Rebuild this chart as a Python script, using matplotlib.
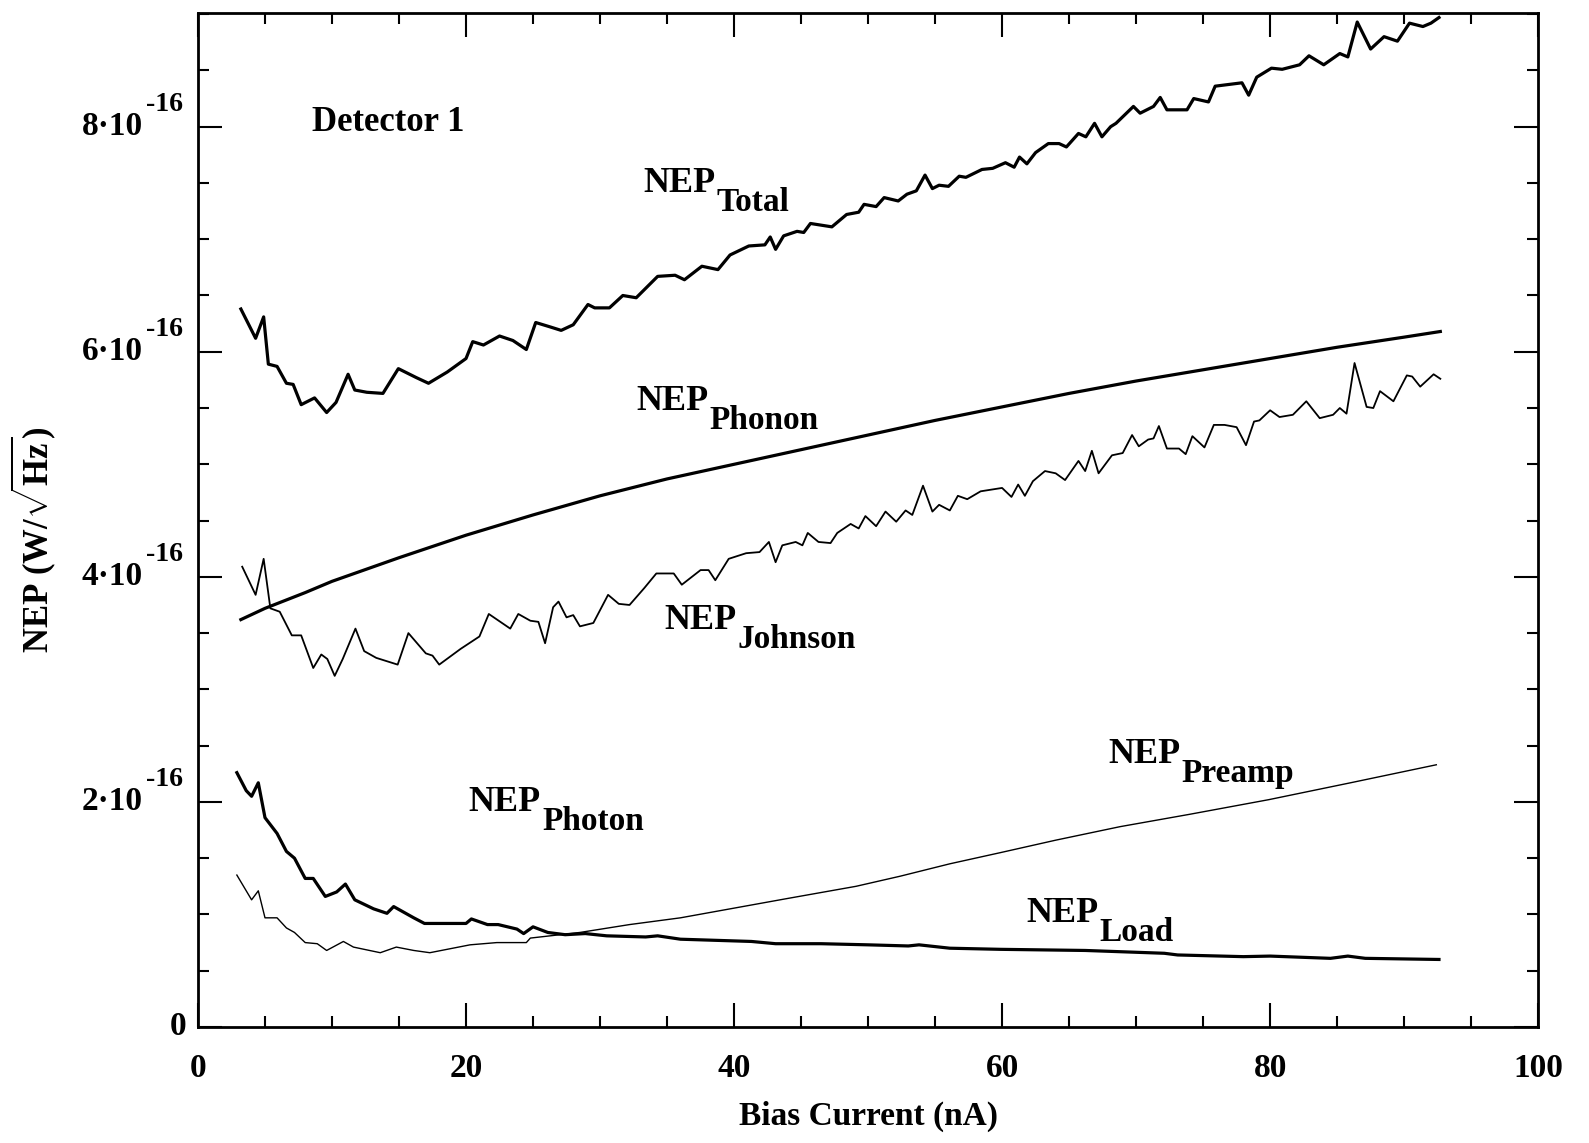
import matplotlib
matplotlib.use("Agg")
import matplotlib.pyplot as plt
import matplotlib.transforms as mtransforms
from matplotlib.ticker import MultipleLocator
import numpy as np

plt.rcParams["font.family"] = ["Liberation Serif", "DejaVu Serif"]
plt.rcParams["font.weight"] = "bold"
plt.rcParams["axes.labelweight"] = "bold"
plt.rcParams["mathtext.fontset"] = "custom"
plt.rcParams["mathtext.rm"] = "Liberation Serif:bold"
plt.rcParams["mathtext.bf"] = "Liberation Serif:bold"
plt.rcParams["mathtext.it"] = "Liberation Serif:italic:bold"

SCALE = 1e-16  # all NEP values below are in units of 1e-16 W/sqrt(Hz)

# bias current (nA) and NEP values
total_x = [3.2, 4.3, 4.9, 5.25, 5.9, 6.6, 7.1, 7.7, 8.7, 9.6, 10.3, 11.2, 11.7, 12.6, 13.8,
           14.95, 16.3, 17.2, 18.6, 20.0, 20.5, 21.3, 22.5, 23.5, 24.5, 25.2, 26.3, 27.1, 28.0,
           29.1, 29.6, 30.7, 31.7, 32.7, 34.3, 35.6, 36.3, 37.6, 38.8, 39.7, 41.1, 42.3, 42.7,
           43.1, 43.7, 44.7, 45.2, 45.7, 47.3, 48.4, 49.3, 49.7, 50.6, 51.2, 52.25, 52.9, 53.6,
           54.25, 54.8, 55.3, 56.0, 56.8, 57.3, 58.5, 59.3, 60.25, 60.9, 61.3, 61.85, 62.5,
           63.45, 64.25, 64.8, 65.7, 66.25, 66.9, 67.45, 68.1, 68.5, 69.8, 70.3, 71.3, 71.8,
           72.3, 73.8, 74.3, 75.4, 75.9, 77.9, 78.4, 79.0, 80.1, 80.9, 82.2, 82.9, 84.0, 85.2,
           85.8, 86.5, 87.5, 88.5, 89.5, 90.4, 91.4, 92.0, 92.6]
total_y = [6.38, 6.12, 6.31, 5.89, 5.87, 5.72, 5.71, 5.53, 5.59, 5.46, 5.55, 5.80, 5.66, 5.64, 5.63,
           5.85, 5.77, 5.72, 5.82, 5.94, 6.09, 6.06, 6.14, 6.10, 6.02, 6.26, 6.22, 6.19, 6.24,
           6.42, 6.39, 6.39, 6.50, 6.48, 6.67, 6.68, 6.64, 6.76, 6.73, 6.86, 6.94, 6.95, 7.02,
           6.91, 7.03, 7.07, 7.06, 7.14, 7.11, 7.22, 7.24, 7.31, 7.29, 7.37, 7.34, 7.40, 7.43,
           7.57, 7.45, 7.48, 7.47, 7.56, 7.55, 7.62, 7.63, 7.68, 7.64, 7.73, 7.67, 7.77,
           7.85, 7.85, 7.82, 7.94, 7.91, 8.03, 7.91, 8.00, 8.03, 8.18, 8.12, 8.18, 8.26,
           8.15, 8.15, 8.25, 8.22, 8.36, 8.39, 8.28, 8.44, 8.52, 8.51, 8.55, 8.63, 8.55, 8.65,
           8.62, 8.93, 8.69, 8.80, 8.76, 8.92, 8.89, 8.92, 8.97]

phonon_x = [3.2, 5, 8, 10, 15, 20, 25, 30, 35, 40, 45, 50, 55, 60, 65, 70, 75, 80, 85, 90, 92.7]
phonon_y = [3.62, 3.72, 3.86, 3.96, 4.17, 4.37, 4.55, 4.72, 4.87, 5.00, 5.13, 5.26, 5.39, 5.51,
            5.63, 5.74, 5.84, 5.94, 6.04, 6.13, 6.18]

johnson_x = [3.3, 4.3, 4.9, 5.4, 6.1, 7.0, 7.7, 8.6, 9.2, 9.65, 10.2, 10.8, 11.75, 12.4, 13.3,
             14.9, 15.7, 17.0, 17.5, 18.0, 19.6, 21.0, 21.7, 23.3, 23.9, 24.8, 25.4, 25.9, 26.5,
             26.9, 27.5, 28.0, 28.5, 29.5, 30.6, 31.4, 32.2, 33.3, 34.2, 35.5, 36.1, 37.5, 38.1,
             38.6, 39.6, 40.9, 41.9, 42.6, 43.1, 43.6, 44.6, 45.1, 45.5, 46.3, 47.2, 47.7, 48.7,
             49.3, 49.8, 50.6, 51.3, 52.1, 52.8, 53.3, 54.1, 54.8, 55.3, 56.1, 56.7, 57.4, 58.4,
             60.0, 60.7, 61.2, 61.7, 62.3, 63.2, 64.0, 64.7, 65.7, 66.2, 66.7, 67.2, 68.2, 69.0,
             69.7, 70.2, 70.9, 71.3, 71.7, 72.3, 73.2, 73.7, 74.2, 75.1, 75.8, 76.6, 77.5, 78.2,
             78.8, 79.2, 80.0, 80.7, 81.7, 82.7, 83.7, 84.7, 85.2, 85.7, 86.3, 87.2, 87.7, 88.2,
             89.2, 90.2, 90.6, 91.2, 92.2, 92.7]
johnson_y = [4.09, 3.84, 4.16, 3.72, 3.69, 3.48, 3.48, 3.19, 3.31, 3.27, 3.12, 3.27, 3.54, 3.34, 3.28,
             3.22, 3.50, 3.32, 3.30, 3.22, 3.36, 3.47, 3.67, 3.54, 3.67, 3.61, 3.60, 3.41, 3.73,
             3.78, 3.64, 3.66, 3.56, 3.59, 3.84, 3.76, 3.75, 3.90, 4.03, 4.03, 3.93, 4.06, 4.06,
             3.97, 4.16, 4.21, 4.22, 4.31, 4.13, 4.28, 4.31, 4.28, 4.39, 4.31, 4.30, 4.39, 4.47,
             4.43, 4.54, 4.45, 4.58, 4.49, 4.59, 4.55, 4.81, 4.58, 4.64, 4.59, 4.72, 4.69, 4.76,
             4.79, 4.71, 4.82, 4.72, 4.85, 4.94, 4.92, 4.86, 5.03, 4.94, 5.12, 4.92, 5.08, 5.10,
             5.26, 5.16, 5.22, 5.23, 5.34, 5.14, 5.14, 5.09, 5.25, 5.15, 5.35, 5.35, 5.33, 5.17,
             5.38, 5.39, 5.48, 5.42, 5.44, 5.56, 5.41, 5.44, 5.50, 5.45, 5.90, 5.51, 5.50, 5.65,
             5.56, 5.79, 5.78, 5.69, 5.80, 5.76]

# photon at low bias, merging into load at high bias (one thick trace)
photon_x = [2.9, 3.6, 4.0, 4.5, 5.0, 5.9, 6.6, 7.2, 8.0, 8.6, 9.5, 10.35, 11.0, 11.7, 13.1,
            14.1, 14.6, 16.1, 16.9, 20.0, 20.4, 21.6, 22.4, 23.8, 24.3, 25.0, 26.1, 27.4,
            28.9, 30.5, 33.4, 34.3, 36.0, 41.3, 43.1, 46.5, 50.0, 53.0, 53.8, 56.1, 59.9,
            66.2, 72.1, 73.1, 78.0, 80.0, 84.5, 85.8, 87.1, 92.6]
photon_y = [2.26, 2.10, 2.05, 2.17, 1.86, 1.72, 1.56, 1.50, 1.32, 1.32, 1.16, 1.20, 1.27, 1.13, 1.05,
            1.01, 1.07, 0.97, 0.92, 0.92, 0.96, 0.91, 0.91, 0.87, 0.83, 0.89, 0.84, 0.82,
            0.83, 0.81, 0.80, 0.81, 0.78, 0.76, 0.74, 0.74, 0.73, 0.72, 0.73, 0.70, 0.69,
            0.68, 0.655, 0.64, 0.625, 0.63, 0.61, 0.63, 0.61, 0.60]

preamp_x = [2.9, 4.0, 4.5, 5.0, 5.9, 6.6, 7.2, 8.0, 8.9, 9.6, 10.85, 11.6, 13.6, 14.8, 16.1,
            17.3, 20.3, 22.3, 24.5, 24.8, 28.5, 32.2, 36.0, 43.9, 49.1, 52.4, 56.1, 59.9,
            64.0, 68.8, 74.0, 79.9, 86.0, 92.4]
preamp_y = [1.35, 1.13, 1.21, 0.97, 0.97, 0.88, 0.84, 0.75, 0.74, 0.68, 0.76, 0.71, 0.66, 0.71, 0.68,
            0.66, 0.73, 0.75, 0.75, 0.79, 0.84, 0.91, 0.97, 1.14, 1.25, 1.34, 1.45, 1.55,
            1.66, 1.78, 1.89, 2.02, 2.17, 2.33]

x_ticks = [0, 20, 40, 60, 80, 100]
y_ticks = [0, 2, 4, 6, 8]
y_tick_bases = ["0", "2·10", "4·10", "6·10", "8·10"]
y_tick_exp = "-16"

# curve labels: (x, y, subscript)
curve_labels = [(33.2, 7.42, "Total"), (32.7, 5.48, "Phonon"), (34.8, 3.54, "Johnson"),
                (20.2, 1.92, "Photon"), (67.9, 2.35, "Preamp"), (61.8, 0.93, "Load")]

fig = plt.figure(figsize=(15.89, 11.43), dpi=100)
ax = fig.add_axes([0.1246, 0.1015, 0.8434, 0.8871])

ax.plot(total_x, np.array(total_y) * SCALE, color="black", lw=2.3)
ax.plot(phonon_x, np.array(phonon_y) * SCALE, color="black", lw=2.3)
ax.plot(johnson_x, np.array(johnson_y) * SCALE, color="black", lw=1.3)
ax.plot(photon_x, np.array(photon_y) * SCALE, color="black", lw=2.3)
ax.plot(preamp_x, np.array(preamp_y) * SCALE, color="black", lw=1.0)

ax.set_xlim(0, 100)
ax.set_ylim(0, 9.01 * SCALE)
ax.set_xticks(x_ticks)
ax.set_xticklabels([str(t) for t in x_ticks])
ax.xaxis.set_minor_locator(MultipleLocator(5))
ax.set_yticks([v * SCALE for v in y_ticks])
ax.set_yticklabels([])
ax.yaxis.set_minor_locator(MultipleLocator(0.5 * SCALE))

ax.tick_params(which="both", direction="in", top=True, right=True, width=1.5)
ax.tick_params(which="major", length=17, labelsize=24, pad=19)
ax.tick_params(which="minor", length=8)
for spine in ax.spines.values():
    spine.set_linewidth(2)

blend = mtransforms.blended_transform_factory(ax.transAxes, ax.transData)
for v, base in zip(y_ticks, y_tick_bases):
    if v == 0:
        ax.text(-0.009, v * SCALE, base, transform=blend, ha="right", va="center", fontsize=24)
        continue
    ax.text(-0.041, v * SCALE, base, transform=blend, ha="right", va="center", fontsize=24)
    ax.annotate(y_tick_exp, xy=(-0.039, v * SCALE), xycoords=blend, xytext=(0, 7),
                textcoords="offset points", ha="left", va="bottom", fontsize=20)

ax.set_xlabel("Bias Current (nA)", fontsize=24, fontweight="bold", labelpad=12)
ax.text(-0.123, 0.48, r"NEP (W/$\sqrt{\mathbf{Hz}}$)", transform=ax.transAxes,
        rotation=90, ha="center", va="center", fontsize=25)

ax.text(8.5, 7.96 * SCALE, "Detector 1", fontsize=25, ha="left", va="baseline")
for lx, ly, sub in curve_labels:
    t = ax.text(lx, ly * SCALE, "NEP", fontsize=26, ha="left", va="baseline")
    ax.annotate(sub, xy=(1, 0), xycoords=t, xytext=(1, -13), textcoords="offset points",
                fontsize=24, ha="left", va="bottom")

fig.savefig("out.png", dpi=100)
